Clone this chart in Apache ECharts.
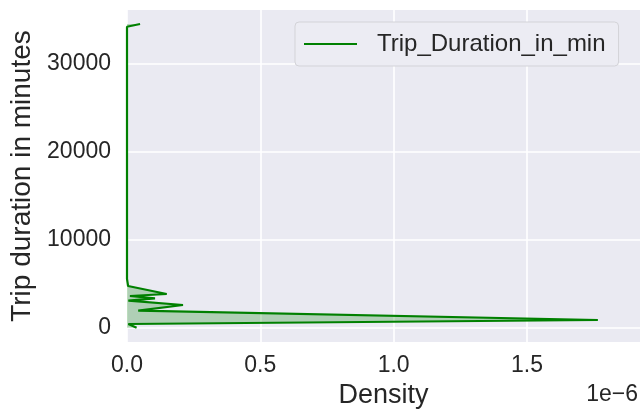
<!DOCTYPE html>
<html>
<head>
<meta charset="utf-8">
<script src="https://cdn.jsdelivr.net/npm/echarts@6/dist/echarts.min.js"></script>
<style>
  html, body { margin: 0; padding: 0; background: #ffffff; }
  #chart { width: 641px; height: 410px; }
</style>
</head>
<body>
<div id="chart"></div>
<script>
// KDE curve (density in units of 1e-6)
const durations = [-45, 375, 830, 1886, 2534, 3023, 3295, 3557, 3784, 4693,
  5500, 9000, 16000, 25000, 32000, 34159, 34466]
const densityE6 = [0.036, 0.005, 1.766, 0.042, 0.210, 0.005, 0.105, 0.011, 0.149, 0.004,
  0.0, 0.0, 0.0, 0.0, 0.0, 0.0, 0.049]

const xTicks = [0, 0.5, 1.0, 1.5]
const yTicks = [0, 10000, 20000, 30000]
const seriesName = 'Trip_Duration_in_min'

const font = "'Liberation Sans', Arial, sans-serif"
const textColor = '#262626'

const points = durations.map((d, i) => [densityE6[i], d])

const chart = echarts.init(document.getElementById('chart'))

chart.setOption({
  animation: false,
  textStyle: { fontFamily: font, color: textColor },
  grid: {
    left: 127, right: 1, top: 10, bottom: 68,
    outerBoundsMode: 'none',
    containLabel: false,
    show: true, backgroundColor: '#EAEAF2', borderWidth: 0,
  },
  legend: {
    left: 295, top: 22,
    padding: [8, 13, 8, 9],
    backgroundColor: '#ECECF3',
    borderColor: '#d3d3d8',
    borderWidth: 1,
    borderRadius: 4,
    icon: 'rect',
    itemWidth: 53,
    itemHeight: 2,
    textStyle: { fontSize: 24, color: textColor, fontFamily: font, padding: [0, 0, 0, 15], lineHeight: 28 },
    data: [seriesName],
  },
  xAxis: {
    type: 'value',
    min: 0, max: 1.924,
    name: 'Density',
    nameLocation: 'middle',
    nameGap: 34,
    nameTextStyle: { fontSize: 27, color: textColor, fontFamily: font },
    axisLine: { show: false },
    axisTick: { show: false, customValues: xTicks },
    axisLabel: {
      customValues: xTicks,
      fontSize: 23, color: textColor, margin: 12,
      formatter: (v) => v.toFixed(1),
    },
    splitLine: { lineStyle: { color: '#ffffff', width: 1.6 } },
  },
  yAxis: {
    type: 'value',
    min: -1670, max: 36060,
    name: 'Trip duration in minutes',
    nameLocation: 'middle',
    nameGap: 84,
    nameTextStyle: { fontSize: 28, color: textColor, fontFamily: font },
    axisLine: { show: false },
    axisTick: { show: false, customValues: yTicks },
    axisLabel: {
      customValues: yTicks, fontSize: 23, color: textColor, margin: 16,
      formatter: (v) => String(v),
    },
    splitLine: { lineStyle: { color: '#ffffff', width: 1.6 } },
  },
  graphic: [{
    type: 'text',
    right: 3, top: 383,
    style: { text: '1e\u22126', fill: textColor, font: '23px ' + font },
  }],
  series: [
    {
      // shaded area between the curve and density = 0
      type: 'custom',
      silent: true,
      z: 1,
      data: [0],
      renderItem: (params, api) => {
        const poly = points.map((p) => api.coord(p))
        poly.push(api.coord([0, durations[durations.length - 1]]))
        poly.push(api.coord([0, durations[0]]))
        return {
          type: 'polygon',
          shape: { points: poly },
          style: { fill: 'rgba(0,128,0,0.25)' },
        }
      },
    },
    {
      name: seriesName,
      type: 'line',
      z: 2,
      symbol: 'none',
      clip: true,
      data: points,
      lineStyle: { color: '#008000', width: 2.2 },
      itemStyle: { color: '#008000' },
    },
  ],
})
</script>
</body>
</html>
